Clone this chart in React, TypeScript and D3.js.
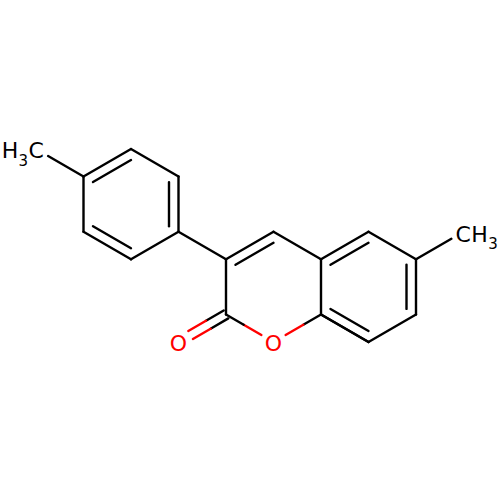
import * as d3 from 'd3';

// atom positions on the hex lattice: col = half ring widths, row = bond lengths
const atomCols = [0, 1, 2, 3, 3, 2, 1, 4, 5, 6, 6, 7, 8, 8, 7, 5, 4, 3, 9];
const atomRows = [0, 0.5, 0, 0.5, 1.5, 2, 1.5, 2, 1.5, 2, 3, 1.5, 2, 3, 3.5, 3.5, 3, 3.5, 1.5];
const atomLabels = ['H3C', '', '', '', '', '', '', '', '', '', '', '', '', '', '', 'O', '', 'O', 'CH3'];

const bondFrom = [0, 1, 2, 3, 4, 5, 6, 4, 7, 8, 9, 10, 9, 11, 12, 13, 14, 12, 10, 15, 16, 16];
const bondTo = [1, 2, 3, 4, 5, 6, 1, 7, 8, 9, 10, 14, 11, 12, 13, 14, 10, 18, 15, 16, 7, 17];
const bondOrder = [1, 2, 1, 2, 1, 2, 1, 1, 2, 1, 1, 2, 2, 1, 2, 1, 1, 1, 1, 1, 1, 3];
// ring the inner line of a double bond leans to, -1 when it has none
const bondRing = [-1, 0, -1, 0, -1, 0, -1, -1, 1, -1, -1, 2, 2, -1, 2, -1, -1, -1, -1, -1, -1, -1];

const rings = [
  [1, 2, 3, 4, 5, 6],
  [7, 8, 9, 10, 15, 16],
  [9, 11, 12, 13, 14, 10],
];

const x = d3.scaleLinear().domain([0, 9]).range([36, 463.5]);
const y = d3.scaleLinear().domain([0, 3.5]).range([149, 342]);

const LABEL_GAP = 14;
const INNER = 0.8;
const CO_OFFSET = 4.6;
const STROKE = 2.4;
const RED = '#ff0000';

type Pt = [number, number];

const pos = (i: number): Pt => [x(atomCols[i]), y(atomRows[i])];
const lineGen = d3.line<Pt>();

const centers = rings.map((r) => d3.polygonCentroid(r.map(pos)));

function toward(a: Pt, b: Pt, dist: number): Pt {
  const len = Math.hypot(b[0] - a[0], b[1] - a[1]);
  return [a[0] + ((b[0] - a[0]) * dist) / len, a[1] + ((b[1] - a[1]) * dist) / len];
}

function atomColor(i: number) {
  return atomLabels[i] === 'O' ? RED : '#000';
}

// one visible bond line, split in two colours at its middle
function Segment({ a, b, ca, cb }: { a: Pt; b: Pt; ca: string; cb: string }) {
  const mid: Pt = [(a[0] + b[0]) / 2, (a[1] + b[1]) / 2];
  if (ca === cb) return <path d={lineGen([a, b]) || ''} stroke={ca} strokeWidth={STROKE} fill="none" />;
  return (
    <g fill="none" strokeWidth={STROKE}>
      <path d={lineGen([a, mid]) || ''} stroke={ca} />
      <path d={lineGen([mid, b]) || ''} stroke={cb} />
    </g>
  );
}

function Bond({ index }: { index: number }) {
  const i = bondFrom[index];
  const j = bondTo[index];
  const order = bondOrder[index];
  let a = pos(i);
  let b = pos(j);
  if (atomLabels[i]) a = toward(a, b, LABEL_GAP);
  if (atomLabels[j]) b = toward(b, a, LABEL_GAP);
  const ca = atomColor(i);
  const cb = atomColor(j);

  if (order === 3) {
    // carbonyl: two lines either side of the axis (order 3 = centred double)
    const len = Math.hypot(b[0] - a[0], b[1] - a[1]);
    const nx = (-(b[1] - a[1]) / len) * CO_OFFSET;
    const ny = ((b[0] - a[0]) / len) * CO_OFFSET;
    return (
      <g>
        <Segment a={[a[0] + nx, a[1] + ny]} b={[b[0] + nx, b[1] + ny]} ca={ca} cb={cb} />
        <Segment a={[a[0] - nx, a[1] - ny]} b={[b[0] - nx, b[1] - ny]} ca={ca} cb={cb} />
      </g>
    );
  }

  const ring = bondRing[index];
  if (order === 2 && ring >= 0) {
    const c = centers[ring];
    const shrink = (p: Pt): Pt => [c[0] + (p[0] - c[0]) * INNER, c[1] + (p[1] - c[1]) * INNER];
    return (
      <g>
        <Segment a={a} b={b} ca={ca} cb={cb} />
        <Segment a={shrink(a)} b={shrink(b)} ca={ca} cb={cb} />
      </g>
    );
  }
  return <Segment a={a} b={b} ca={ca} cb={cb} />;
}

function AtomLabel({ index }: { index: number }) {
  const label = atomLabels[index];
  const [px, py] = pos(index);
  const font = { fontFamily: '"DejaVu Sans"', fontSize: 22 };
  if (label === 'O') {
    return (
      <text x={px} y={py + 8.6} textAnchor="middle" fill={RED} {...font}>
        O
      </text>
    );
  }
  if (label === 'H3C') {
    return (
      <text x={px - 34.3} y={py + 9} fill="#000" {...font} letterSpacing={0.3}>
        H
        <tspan fontSize={15} dy={7.5}>3</tspan>
        <tspan dy={-7.5}>C</tspan>
      </text>
    );
  }
  return (
    <text x={px - 8} y={py + 10} fill="#000" {...font} letterSpacing={0.4}>
      CH
      <tspan fontSize={15} dy={7.5}>3</tspan>
    </text>
  );
}

export default function App() {
  return (
    <svg
      width={500}
      height={500}
      viewBox="0 0 500 500"
      style={{ position: 'absolute', left: 0, top: 0, background: '#fff' }}
      strokeLinecap="round"
    >
      {bondFrom.map((_, i) => (
        <Bond key={i} index={i} />
      ))}
      {atomLabels.map((l, i) => (l ? <AtomLabel key={i} index={i} /> : null))}
    </svg>
  );
}
